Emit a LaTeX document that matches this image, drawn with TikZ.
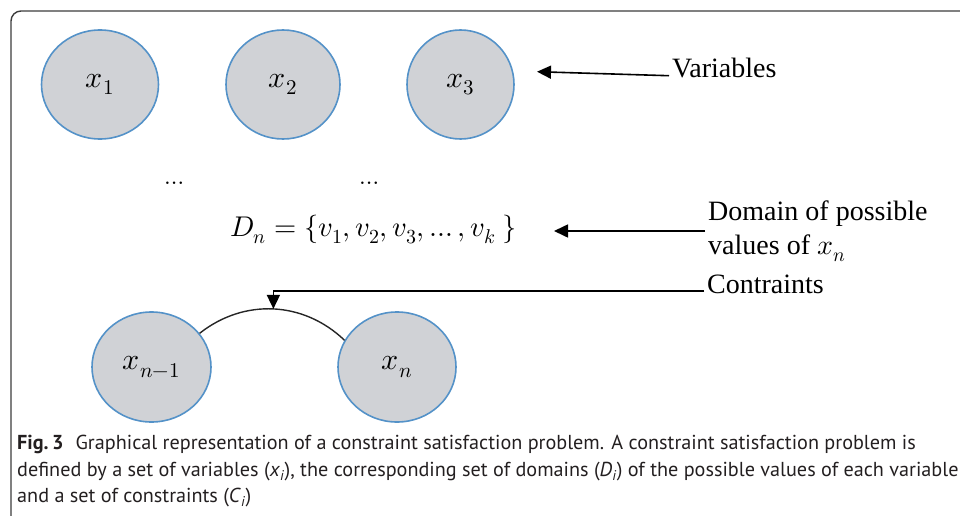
\documentclass[tikz,border=0pt]{standalone}
\usepackage{fontspec}
\usepackage{unicode-math}
\setmainfont{Liberation Serif}
\setmathfont{Latin Modern Math}
\newfontfamily\capfont{PT Sans}
\usetikzlibrary{arrows.meta, shapes.geometric, positioning}
\definecolor{varfill}{RGB}{208,210,214}
\definecolor{varline}{RGB}{84,146,200}
\definecolor{framegray}{RGB}{60,60,60}
\definecolor{captext}{RGB}{35,31,32}

\begin{document}
\begin{tikzpicture}[x=1pt, y=-1pt,
    var/.style={draw=varline, line width=1.6pt, fill=varfill, ellipse, inner sep=0pt, minimum width=117pt, minimum height=109pt, font=\fontsize{30}{36}\selectfont},
    lbl/.style={anchor=base west, inner sep=3pt, align=left, font=\fontsize{28}{34}\selectfont},
    captionline/.style={anchor=base west, inner sep=0pt, text=captext, font=\capfont\fontsize{20.2}{26}\selectfont},
    tip/.style={-{Triangle[length=14pt, width=13pt]}, line width=1.6pt}]
    \useasboundingbox (0,0) rectangle (960,516);
    \clip (0,0) rectangle (960,516);
    \draw[framegray, line width=1.4pt, rounded corners=10pt] (11,540) -- (11,11) -- (990,11);

    % Nodes
    \node (x1) [var] at (100,84.5) {$x_1$};
    \node (x2) [var, minimum width=114pt, right of=x1, node distance=183pt] {$x_2$};
    \node (x3) [var, minimum width=107pt, right of=x2, node distance=177.5pt] {$x_3$};
    \node (dotsl) at (177,183) [font=\fontsize{24}{28}\selectfont] {$\dots$};
    \node (dotsr) at (372,183) [font=\fontsize{24}{28}\selectfont] {$\dots$};
    \node (dn) at (373.5,230) [font=\fontsize{28.5}{34}\selectfont] {$D_n = \{v_1, v_2, v_3, \dots, v_k\ \}$};
    \node (xn1) [var, minimum width=119pt, minimum height=110pt] at (151.5,367) {$x_{n-1}$};
    \node (xn) [var, minimum width=118pt, minimum height=110pt, right of=xn1, node distance=245.5pt] {$x_n$};

    \node (vars) [lbl] at (669,78) {Variables};
    \node (dom) [lbl, anchor=west] at (705,231) {Domain of possible\\values of $x_n$};
    \node (cons) [lbl] at (704,293) {Contraints};
    \coordinate (vtip) at (537,71.7);
    \coordinate (dtip) at (554,231);

    % Edges
    \draw[line width=1.4pt, black!85] (xn1.35) to[bend left=41] coordinate[pos=0.5] (ctop) (xn.153);
    \draw[tip] (vars.mid west) -- (vtip);
    \draw[tip] (dom.west) -- (dtip);
    \draw[tip] (cons.mid west) -| (ctop);

    % Caption
    \node (cap1) [captionline] at (17,449) {{\bfseries Fig.\,3}\hspace{0.6em}Graphical representation of a constraint satisfaction problem. A constraint satisfaction problem is};
    \node (cap2) [captionline] at (17,476) {defined by a set of variables (\textit{x}\textsubscript{\textit{i}}), the corresponding set of domains (\textit{D}\textsubscript{\textit{i}}) of the possible values of each variable};
    \node (cap3) [captionline] at (17,502) {and a set of constraints (\textit{C}\textsubscript{\textit{i}})};
\end{tikzpicture}
\end{document}
